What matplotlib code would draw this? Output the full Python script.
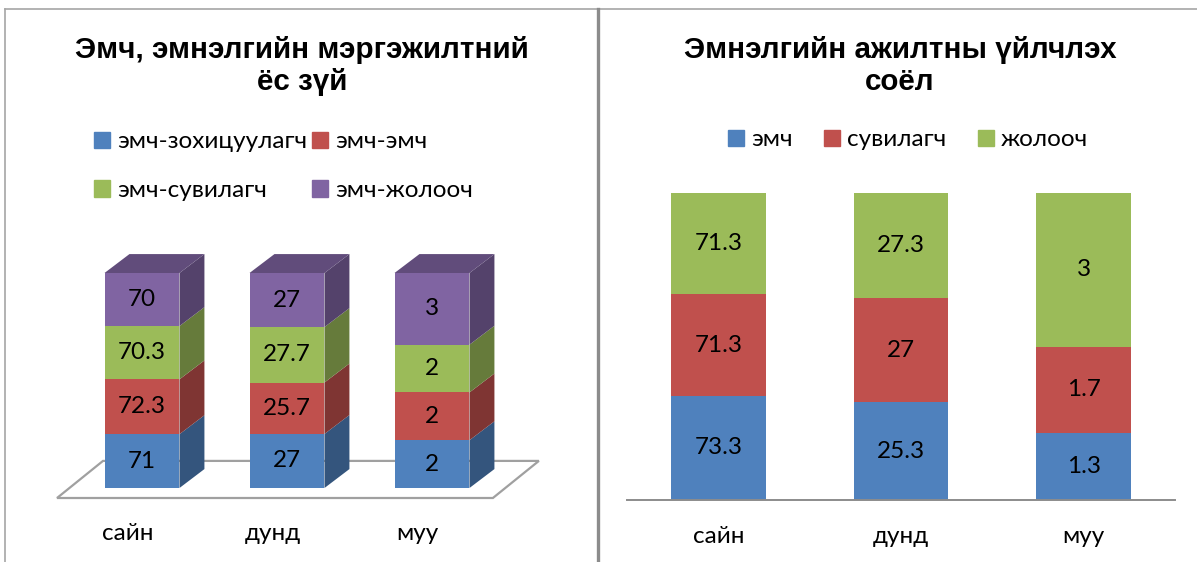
import matplotlib.pyplot as plt
import matplotlib.colors as mcolors
import numpy as np
from matplotlib.patches import Polygon
from matplotlib.lines import Line2D

W, H = 1197, 562

# left chart data
left_title = "Эмч, эмнэлгийн мэргэжилтний\nёс зүй"
categories = ["сайн", "дунд", "муу"]
left_series = ["эмч-зохицуулагч", "эмч-эмч", "эмч-сувилагч", "эмч-жолооч"]
left_zohitsuulagch = [71, 27, 2]
left_emch = [72.3, 25.7, 2]
left_suvilagch = [70.3, 27.7, 2]
left_jolooch = [70, 27, 3]

# right chart data
right_title = "Эмнэлгийн ажилтны үйлчлэх\nсоёл"
right_series = ["эмч", "сувилагч", "жолооч"]
right_emch = [73.3, 25.3, 1.3]
right_suvilagch = [71.3, 27, 1.7]
right_jolooch = [71.3, 27.3, 3]

colors = ["#4F81BD", "#C0504D", "#9BBB59", "#8064A2"]
body_font = ["Lato", "DejaVu Sans"]
title_font = ["Liberation Sans", "DejaVu Sans"]
fs = 17.5


def fig_box(x0, y0, x1, y1):
    # pixel box (top-left origin) -> figure fraction rect
    return [x0 / W, 1 - y1 / H, (x1 - x0) / W, (y1 - y0) / H]


def shade(c, f):
    r, g, b = mcolors.to_rgb(c)
    return (r * f, g * f, b * f)


def as_share(series_list):
    arr = np.array(series_list, dtype=float)
    return arr / arr.sum(axis=0)


fig = plt.figure(figsize=(W / 100, H / 100), dpi=100)

# panel borders
fig.add_artist(Line2D([5 / W, 1], [1 - 9 / H] * 2, color="#A6A6A6", lw=1.2))
fig.add_artist(Line2D([5 / W] * 2, [0, 1 - 9 / H], color="#A6A6A6", lw=1.2))
fig.add_artist(Line2D([598 / W] * 2, [0, 1 - 9 / H], color="#8C8C8C", lw=2.4))

# ---------------- left: 3D stacked 100% bars ----------------
axl = fig.add_axes(fig_box(40, 250, 570, 505))
axl.set_xlim((40 - 142) / 145, (570 - 142) / 145)
axl.set_ylim((488 - 505) / 215, (488 - 250) / 215)
axl.axis("off")

lvals = [left_zohitsuulagch, left_emch, left_suvilagch, left_jolooch]
lshare = as_share(lvals)
x = np.arange(len(categories))
bw = 0.517
dx, dy = 0.172, 0.088

# floor
fx0, fx1 = -0.586, 2.42
fy0, fy1 = -0.0465, 0.126
fdx = 0.317
axl.add_patch(Polygon([(fx0, fy0), (fx1, fy0), (fx1 + fdx, fy1), (fx0 + fdx, fy1)],
                      closed=True, facecolor="white", edgecolor="#A0A0A0", lw=1.6, zorder=1))

bottom = np.zeros(len(categories))
for k, (share, vals) in enumerate(zip(lshare, lvals)):
    axl.bar(x, share, bw, bottom=bottom, color=colors[k], zorder=3)
    for i in range(len(categories)):
        xr = x[i] + bw / 2
        b, t = bottom[i], bottom[i] + share[i]
        axl.add_patch(Polygon([(xr, b), (xr + dx, b + dy), (xr + dx, t + dy), (xr, t)],
                              closed=True, facecolor=shade(colors[k], 0.66), lw=0, zorder=2))
        axl.text(x[i], (b + t) / 2, f"{vals[i]:g}", ha="center", va="center",
                 fontsize=fs, family=body_font, zorder=5)
    bottom = bottom + share

for i in range(len(categories)):
    xl, xr, t = x[i] - bw / 2, x[i] + bw / 2, bottom[i]
    axl.add_patch(Polygon([(xl, t), (xl + dx, t + dy), (xr + dx, t + dy), (xr, t)],
                          closed=True, facecolor=shade(colors[3], 0.76), lw=0, zorder=2))
    axl.text(x[i] - 0.1, (488 - 534) / 215, categories[i], ha="center", va="center",
             fontsize=fs, family=body_font)

fig.text(302 / W, 1 - 66 / H, left_title, ha="center", va="center", fontsize=21.3,
         fontweight="bold", family=title_font, linespacing=1.2)

handles = [plt.Rectangle((0, 0), 1, 1, color=c) for c in colors]
# legend fills column-wise, so reorder to read row-wise
order = [0, 2, 1, 3]
fig.legend([handles[j] for j in order], [left_series[j] for j in order], ncol=2,
           loc="upper left", bbox_to_anchor=(82 / W, 1 - 119 / H), frameon=False,
           prop={"family": body_font, "size": fs}, handlelength=0.65,
           handleheight=0.65, handletextpad=0.3, columnspacing=0.2,
           labelspacing=1.15, borderpad=0)

# ---------------- right: stacked 100% bars ----------------
axr = fig.add_axes(fig_box(627, 193, 1175, 500))
axr.set_xlim(-0.5, 2.5)
axr.set_ylim(0, 1)
for s in ["left", "right", "top"]:
    axr.spines[s].set_visible(False)
axr.spines["bottom"].set_color("#8C8C8C")
axr.spines["bottom"].set_linewidth(1.4)
axr.set_yticks([])
axr.set_xticks(x)
axr.set_xticklabels(categories, fontsize=fs, family=body_font)
axr.tick_params(axis="x", length=0, pad=19)

rvals = [right_emch, right_suvilagch, right_jolooch]
rshare = as_share(rvals)
bottom = np.zeros(len(categories))
for k, (share, vals) in enumerate(zip(rshare, rvals)):
    axr.bar(x, share, 0.52, bottom=bottom, color=colors[k])
    for i in range(len(categories)):
        axr.text(x[i], bottom[i] + share[i] / 2, f"{vals[i]:g}", ha="center",
                 va="center", fontsize=fs, family=body_font)
    bottom = bottom + share

fig.text(900 / W, 1 - 66 / H, right_title, ha="center", va="center", fontsize=21.3,
         fontweight="bold", family=title_font, linespacing=1.2)

fig.legend(handles[:3], right_series, ncol=3, loc="center",
           bbox_to_anchor=(908 / W, 1 - 140 / H), frameon=False,
           prop={"family": body_font, "size": fs}, handlelength=0.65,
           handleheight=0.65, handletextpad=0.3, columnspacing=1.3, borderpad=0)

fig.savefig("out.png", dpi=100)
